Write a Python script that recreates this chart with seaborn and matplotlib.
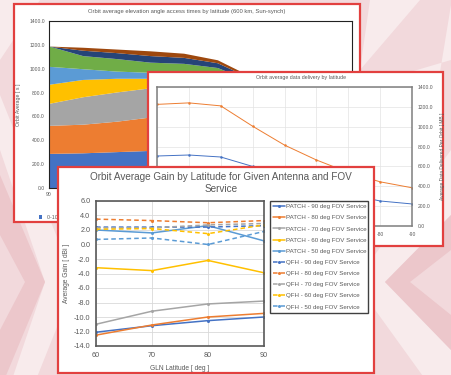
import numpy as np
import pandas as pd
import matplotlib
matplotlib.use("Agg")
import matplotlib.pyplot as plt
import seaborn as sns
from matplotlib.patches import Rectangle, Polygon

# ---------------- data ----------------
# back chart: orbit average elevation angle access times (stacked bands)
elev_lat_labels = ["90", "80", "70", "60", "50", "40", "30", "20", "10", "0"]
elev_band_names = ["0-10 deg", "10-20 deg", "20-30 deg", "30-40 deg",
                   "40-50 deg", "50-60 deg", "60-70 deg", "70-80 deg"]
band_0_10 = [290, 295, 305, 315, 325, 330, 320, 300, 280, 260]
band_10_20 = [235, 240, 255, 280, 290, 280, 250, 210, 180, 160]
band_20_30 = [185, 230, 245, 245, 230, 210, 180, 150, 130, 110]
band_30_40 = [160, 145, 115, 80, 75, 70, 60, 50, 45, 40]
band_40_50 = [150, 90, 60, 50, 55, 60, 50, 40, 35, 30]
band_50_60 = [170, 110, 105, 85, 70, 60, 35, 30, 25, 20]
band_60_70 = [0, 45, 50, 55, 50, 40, 25, 15, 12, 10]
band_70_80 = [0, 25, 30, 40, 35, 25, 15, 10, 8, 8]

# middle chart: orbit average data delivery by latitude
delivery_lat_labels = ["-10", "-20", "-30", "-40", "-50", "-60", "-70", "-80", "-90"]
delivery_high = [1225, 1240, 1210, 1005, 815, 665, 540, 445, 385]
delivery_low = [705, 715, 695, 600, 500, 400, 320, 252, 222]

# front chart: orbit average gain by latitude
gain_lat = [60, 70, 80, 90]
gain_series_names = ["PATCH - 90 deg FOV Service", "PATCH - 80 deg FOV Service",
                     "PATCH - 70 deg FOV Service", "PATCH - 60 deg FOV Service",
                     "PATCH - 50 deg FOV Service", "QFH - 90 deg FOV Service",
                     "QFH - 80 deg FOV Service", "QFH - 70 deg FOV Service",
                     "QFH - 60 deg FOV Service", "QFH - 50 deg FOV Service"]
patch_90 = [-12.1, -11.2, -10.5, -10.0]
patch_80 = [-12.5, -11.1, -10.0, -9.5]
patch_70 = [-11.0, -9.2, -8.2, -7.8]
patch_60 = [-3.2, -3.6, -2.2, -3.9]
patch_50 = [2.0, 1.6, 2.6, 0.5]
qfh_90 = [2.4, 2.4, 2.4, 2.6]
qfh_80 = [3.5, 3.3, 3.0, 3.3]
qfh_70 = [2.3, 2.3, 2.7, 2.9]
qfh_60 = [2.1, 2.2, 1.5, 2.7]
qfh_50 = [0.7, 0.9, 0.0, 1.8]

# ---------------- style ----------------
sns.set_theme(style="white")
plt.rcParams["font.family"] = ["Liberation Sans", "DejaVu Sans"]

W, H = 451, 375
fig = plt.figure(figsize=(W / 100, H / 100), dpi=100)

def fx(x):
    return x / W

def fy(y):
    return 1 - y / H

def axrect(x0, y0, x1, y1):
    return [fx(x0), fy(y1), fx(x1) - fx(x0), fy(y0) - fy(y1)]

# ---------------- background ----------------
bg = fig.add_axes([0, 0, 1, 1], zorder=0)
bg.set_xlim(0, W)
bg.set_ylim(H, 0)
bg.axis("off")
bg.add_patch(Rectangle((0, 0), W, H, color="#F2D9DC"))
light = "#F8EBEC"
darker = "#ECC7CB"
polys_light = [
    [(0, 0), (40, 0), (0, 60)],
    [(0, 95), (0, 150), (45, 282), (0, 415), (0, 470), (75, 282)],
    [(370, 0), (420, 0), (360, 70)],
    [(451, 5), (451, 60), (410, 72), (440, 72)],
    [(451, 150), (451, 215), (385, 282), (451, 350), (451, 415), (355, 282)],
]
polys_dark = [
    [(0, 175), (0, 235), (25, 282), (0, 330), (0, 390), (45, 282)],
    [(451, 215), (451, 250), (410, 282), (451, 315), (451, 350), (385, 282)],
]
for p in polys_light:
    bg.add_patch(Polygon(p, closed=True, color=light, lw=0))
for p in polys_dark:
    bg.add_patch(Polygon(p, closed=True, color=darker, lw=0))

red = "#E2403F"

def panel(x0, y0, x1, y1, z, face="white", edge=red, lw=1.6):
    fig.patches.append(Rectangle((fx(x0), fy(y1)), fx(x1) - fx(x0), fy(y0) - fy(y1),
                                 transform=fig.transFigure, facecolor=face,
                                 edgecolor=edge, lw=lw, zorder=z))

excel = ["#4472C4", "#ED7D31", "#A5A5A5", "#FFC000", "#5B9BD5", "#70AD47", "#264478", "#9E480E"]
txtgray = "#595959"

# ---------------- back chart ----------------
panel(14, 4, 360, 222, 1)
ax1 = fig.add_axes(axrect(49, 21, 352, 188), zorder=2)
xs = np.arange(len(elev_lat_labels))
polys = ax1.stackplot(xs, band_0_10, band_10_20, band_20_30, band_30_40, band_40_50,
                      band_50_60, band_60_70, band_70_80, colors=excel, lw=0)
ax1.set_xlim(0, len(xs) - 1)
ax1.set_ylim(0, 1400)
ax1.set_yticks(np.arange(0, 1401, 200))
ax1.set_yticklabels([f"{v:.1f}" for v in np.arange(0, 1401, 200)])
ax1.set_xticks(xs)
# only the first category label is visible; the rest lie behind the other panels
ax1.set_xticklabels([lab if i == 0 else "" for i, lab in enumerate(elev_lat_labels)])
ax1.tick_params(labelsize=3.6, length=0, colors=txtgray, pad=3)
for s in ax1.spines.values():
    s.set_color("#222222")
    s.set_linewidth(0.8)
ax1.set_ylabel("Orbit Average [ s ]", fontsize=3.8, color=txtgray, labelpad=6)
fig.text(fx(187), fy(11), "Orbit average elevation angle access times by latitude (600 km, Sun-synch)",
         fontsize=4.2, color=txtgray, ha="center", va="center", zorder=2)
# legend: only the first entry is visible in the picture
ax1.legend([polys[0]], [elev_band_names[0]], loc="upper left",
           bbox_to_anchor=(fx(34), fy(210)), bbox_transform=fig.transFigure,
           fontsize=3.8, frameon=False, handlelength=0.7, handleheight=0.7,
           labelcolor=txtgray)

# ---------------- middle chart ----------------
panel(148, 72, 443, 246, 3)
ax2 = fig.add_axes(axrect(157, 87, 412, 226), zorder=4)
xm = np.arange(len(delivery_lat_labels))
sns.lineplot(x=xm, y=delivery_high, ax=ax2, color="#ED7D31", lw=0.7, marker="o",
             markersize=1.8, markeredgewidth=0)
sns.lineplot(x=xm, y=delivery_low, ax=ax2, color="#4472C4", lw=0.7, marker="o",
             markersize=1.8, markeredgewidth=0)
ax2.set_xlim(0, len(xm) - 1)
ax2.set_ylim(0, 1400)
ax2.set_yticks(np.arange(0, 1401, 200))
ax2.set_yticklabels([f"{v:.1f}" for v in np.arange(0, 1401, 200)])
ax2.yaxis.tick_right()
ax2.yaxis.set_label_position("right")
ax2.set_xticks(xm)
ax2.set_xticklabels([lab if i >= len(xm) - 2 else "" for i, lab in enumerate(delivery_lat_labels)])
ax2.grid(True, color="#E3E3E3", lw=0.5)
ax2.tick_params(labelsize=3.6, length=0, colors=txtgray, pad=4)
for s in ax2.spines.values():
    s.set_color("#7F7F7F")
    s.set_linewidth(1.1)
ax2.set_ylabel("Average Data Delivered Per Orbit [ MB ]", fontsize=3.5, color=txtgray,
               labelpad=5, rotation=90)
fig.text(fx(301), fy(78), "Orbit average data delivery by latitude",
         fontsize=3.8, color=txtgray, ha="center", va="center", zorder=4)

# ---------------- front chart ----------------
panel(58, 167, 374, 373, 5)
ax3 = fig.add_axes(axrect(96, 201, 264, 346), zorder=6)
gain_values = [patch_90, patch_80, patch_70, patch_60, patch_50,
               qfh_90, qfh_80, qfh_70, qfh_60, qfh_50]
gain_colors = ["#4472C4", "#ED7D31", "#A5A5A5", "#FFC000", "#5B9BD5",
               "#4472C4", "#ED7D31", "#A5A5A5", "#FFC000", "#5B9BD5"]
for i, (name, vals, col) in enumerate(zip(gain_series_names, gain_values, gain_colors)):
    dashed = i >= 5
    sns.lineplot(x=gain_lat, y=vals, ax=ax3, color=col, lw=1.1, marker="o",
                 markersize=2.2, markeredgewidth=0, label=name,
                 linestyle=(0, (3, 2)) if dashed else "-")
ax3.set_xlim(60, 90)
ax3.set_ylim(-14, 6)
ax3.set_xticks(gain_lat)
ax3.set_yticks(np.arange(-14, 6.1, 2))
ax3.set_yticklabels([f"{v:.1f}" for v in np.arange(-14, 6.1, 2)])
ax3.grid(True, color="#D9D9D9", lw=0.6)
ax3.tick_params(labelsize=5.2, length=0, colors=txtgray, pad=4)
for s in ax3.spines.values():
    s.set_color("#595959")
    s.set_linewidth(1.2)
ax3.set_xlabel("GLN Latitude [ deg ]", fontsize=4.8, color=txtgray, labelpad=5)
ax3.set_ylabel("Average Gain [ dBi ]", fontsize=4.8, color=txtgray, labelpad=3)
fig.text(fx(221), fy(177), "Orbit Average Gain by Latitude for Given Antenna and FOV",
         fontsize=7.2, color=txtgray, ha="center", va="center", zorder=6)
fig.text(fx(221), fy(189.5), "Service",
         fontsize=7.2, color=txtgray, ha="center", va="center", zorder=6)
leg = ax3.legend(loc="upper left", bbox_to_anchor=(fx(270), fy(201)),
                 bbox_transform=fig.transFigure, fontsize=4.4, frameon=False,
                 handlelength=2.0, labelspacing=0.96, borderpad=0.5,
                 handletextpad=0.2, borderaxespad=0, labelcolor=txtgray)
# legend box outline drawn at its place in the reference
panel(270, 201, 368, 313, 7, face="none", edge="#404040", lw=1.0)

fig.savefig("out.png", dpi=100)
